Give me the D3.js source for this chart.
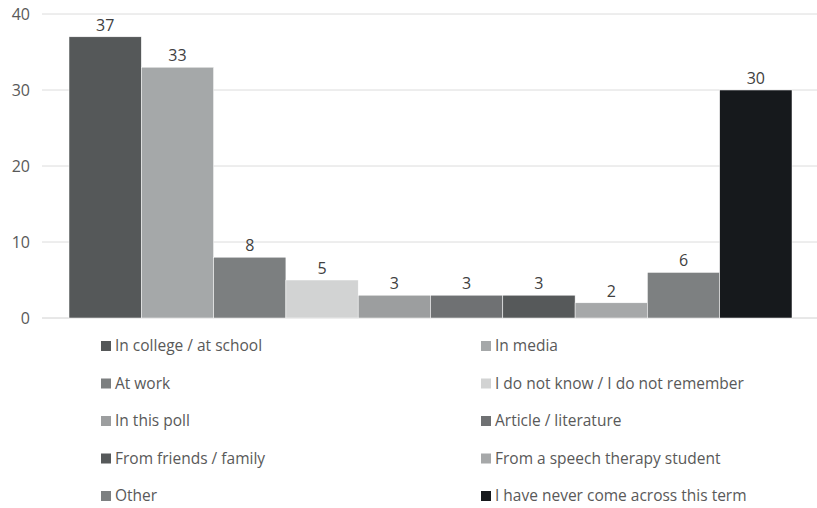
<!DOCTYPE html>
<html>
<head>
<meta charset="utf-8">
<script src="https://cdn.jsdelivr.net/npm/d3@7"></script>
<style>
  body { margin: 0; background: #fff; }
  text { font-family: "Open Sans", "Liberation Sans", sans-serif; }
</style>
</head>
<body>
<div id="chart"></div>
<script>
const categories = [
  "In college / at school", "In media", "At work", "I do not know / I do not remember",
  "In this poll", "Article / literature", "From friends / family",
  "From a speech therapy student", "Other", "I have never come across this term"
]
const values = [37, 33, 8, 5, 3, 3, 3, 2, 6, 30]
const colors = ["#555859", "#a5a8a9", "#7c7f80", "#d2d3d3", "#9c9e9f",
  "#6f7173", "#56595a", "#a6a8a9", "#7d8081", "#16191c"]
const yTicks = [0, 10, 20, 30, 40]

const width = 817, height = 508
const plot = {left: 42, right: 817, top: 14, bottom: 318}

const svg = d3.select("#chart").append("svg")
  .attr("width", width)
  .attr("height", height)

const x = d3.scaleBand()
  .domain(categories)
  .range([69, 792])

const y = d3.scaleLinear()
  .domain([0, 40])
  .range([plot.bottom, plot.top])

// gridlines
svg.append("g")
  .selectAll("line")
  .data(yTicks)
  .enter().append("line")
  .attr("x1", plot.left)
  .attr("x2", plot.right)
  .attr("y1", d => y(d))
  .attr("y2", d => y(d))
  .attr("stroke", d => d === 0 ? "#d0d0d0" : "#dcdcdc")
  .attr("stroke-width", 1)

// y axis labels
svg.append("g")
  .selectAll("text")
  .data(yTicks)
  .enter().append("text")
  .attr("x", 30)
  .attr("y", d => y(d))
  .attr("dy", "0.35em")
  .attr("text-anchor", "end")
  .attr("font-size", 16)
  .attr("fill", "#595959")
  .text(d => d)

// bars
svg.append("g")
  .selectAll("rect")
  .data(values)
  .enter().append("rect")
  .attr("x", (d, i) => x(categories[i]))
  .attr("y", d => y(d))
  .attr("width", x.bandwidth())
  .attr("height", d => y(0) - y(d))
  .attr("fill", (d, i) => colors[i])
  .attr("stroke", "#ffffff")
  .attr("stroke-width", 0.5)

// value labels
svg.append("g")
  .selectAll("text")
  .data(values)
  .enter().append("text")
  .attr("x", (d, i) => x(categories[i]) + x.bandwidth() / 2)
  .attr("y", d => y(d) - 6)
  .attr("text-anchor", "middle")
  .attr("font-size", 16)
  .attr("fill", "#404040")
  .text(d => d)

// legend, two columns
const legend = svg.append("g")
  .selectAll("g")
  .data(categories)
  .enter().append("g")
  .attr("transform", (d, i) => "translate(" + (i % 2 === 0 ? 101 : 481) + "," + (346 + Math.floor(i / 2) * 37.5) + ")")

legend.append("rect")
  .attr("x", 0)
  .attr("y", -5)
  .attr("width", 10)
  .attr("height", 10)
  .attr("fill", (d, i) => colors[i])

legend.append("text")
  .attr("x", 14)
  .attr("y", 0)
  .attr("dy", "0.35em")
  .attr("font-size", 15.5)
  .attr("fill", "#595959")
  .text(d => d)
</script>
</body>
</html>
